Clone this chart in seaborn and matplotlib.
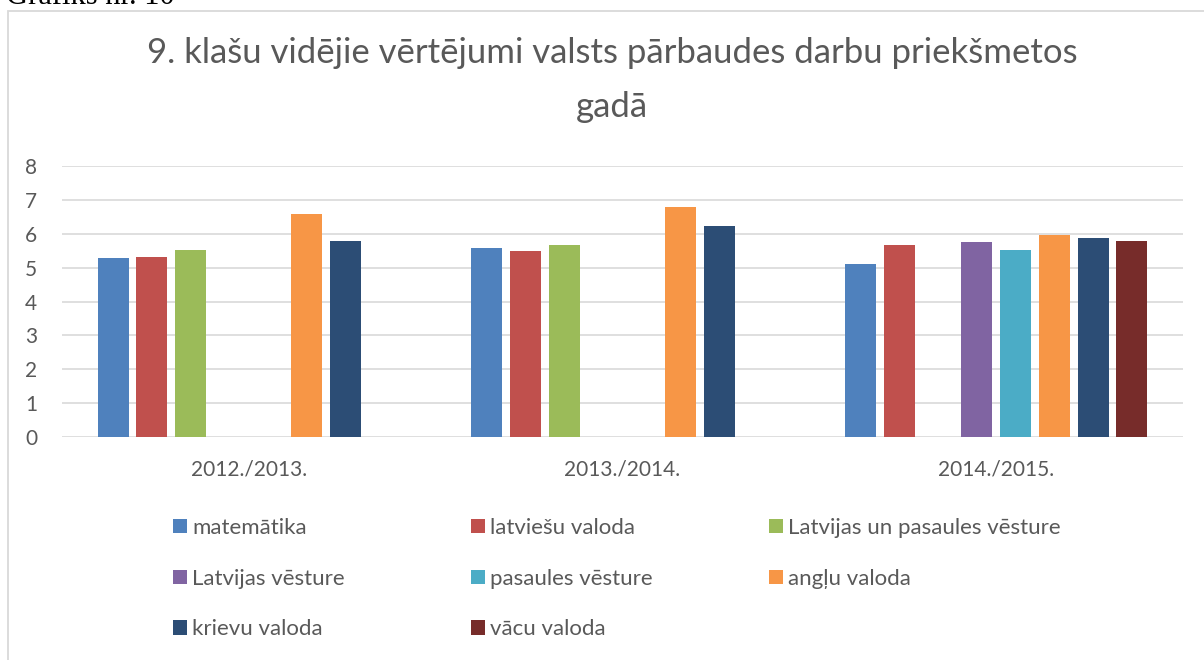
import numpy as np
import pandas as pd
import matplotlib
matplotlib.use("Agg")
import matplotlib.pyplot as plt
import matplotlib.patches as mpatches
import seaborn as sns

# Dati no grafika
gadi = ["2012./2013.", "2013./2014.", "2014./2015."]
prieksmeti = ["matemātika", "latviešu valoda", "Latvijas un pasaules vēsture",
              "Latvijas vēsture", "pasaules vēsture", "angļu valoda",
              "krievu valoda", "vācu valoda"]
matematika = [5.29, 5.59, 5.10]
latviesu_valoda = [5.31, 5.50, 5.66]
lv_un_pasaules_vesture = [5.51, 5.68, np.nan]
latvijas_vesture = [np.nan, np.nan, 5.75]
pasaules_vesture = [np.nan, np.nan, 5.51]
anglu_valoda = [6.59, 6.79, 5.96]
krievu_valoda = [5.78, 6.24, 5.87]
vacu_valoda = [np.nan, np.nan, 5.78]
krasas = ["#4F81BD", "#C0504D", "#9BBB59", "#8064A2",
          "#4BACC6", "#F79646", "#2C4D75", "#772C2A"]

vertibas = [matematika, latviesu_valoda, lv_un_pasaules_vesture, latvijas_vesture,
            pasaules_vesture, anglu_valoda, krievu_valoda, vacu_valoda]

rindas = []
for prieksmets, vals in zip(prieksmeti, vertibas):
    for gads, v in zip(gadi, vals):
        rindas.append({"gads": gads, "prieksmets": prieksmets, "vertejums": v})
df = pd.DataFrame(rindas).dropna()

sns.set_theme(style="white")
plt.rcParams["font.family"] = ["Lato", "DejaVu Sans"]
teksta_krasa = "#595959"

fig = plt.figure(figsize=(12.04, 6.6), dpi=100)
ax = fig.add_axes([62 / 1204, 1 - 437 / 660, (1183 - 62) / 1204, (437 - 166) / 660])

sns.barplot(data=df, x="gads", y="vertejums", hue="prieksmets",
            order=gadi, hue_order=prieksmeti, palette=krasas, saturation=1,
            width=0.83, gap=0.2, legend=False, ax=ax, linewidth=0, zorder=3)

ax.set_ylim(0, 8)
ax.set_yticks(range(0, 9))
ax.set_xlim(-0.5, 2.5)
ax.yaxis.grid(True, color="#d9d9d9", linewidth=1.2, zorder=0)
ax.set_axisbelow(True)
for s in ax.spines.values():
    s.set_visible(False)
ax.set_xlabel("")
ax.set_ylabel("")
ax.tick_params(axis="y", length=0, pad=18, labelsize=15, labelcolor=teksta_krasa)
ax.tick_params(axis="x", length=0, pad=16, labelsize=15, labelcolor=teksta_krasa)

# Virsraksts
fig.text(612 / 1204, 1 - 63 / 660, "9. klašu vidējie vērtējumi valsts pārbaudes darbu priekšmetos",
         ha="center", va="baseline", fontsize=25, color=teksta_krasa)
fig.text(612 / 1204, 1 - 117 / 660, "gadā",
         ha="center", va="baseline", fontsize=25, color=teksta_krasa)

# Grafika rāmis un paraksts virs tā
fig.patches.append(mpatches.Rectangle((8 / 1204, -0.1), 1.1, 1.1 - 11 / 660,
                                      transform=fig.transFigure, fill=False,
                                      edgecolor="#d9d9d9", linewidth=1.3))
fig.text(6 / 1204, 1 - 4 / 660, "Grafiks nr. 10", ha="left", va="baseline",
         fontsize=22, family="Liberation Serif", color="black")

# Leģenda: trīs kolonnas, aizpildītas pa rindām
rokturi = [mpatches.Patch(facecolor=c, edgecolor="none") for c in krasas]
kolonnas = [[0, 3, 6], [1, 4, 7], [2, 5]]
kol_x = [173, 471, 769]
for idx, x in zip(kolonnas, kol_x):
    fig.legend([rokturi[i] for i in idx], [prieksmeti[i] for i in idx],
               loc="upper left", bbox_to_anchor=(x / 1204, 1 - 518 / 660),
               frameon=False, fontsize=16, labelcolor=teksta_krasa,
               handlelength=0.62, handleheight=0.62, handletextpad=0.25,
               labelspacing=1.38, borderpad=0, borderaxespad=0)

fig.savefig("out.png", dpi=100)
